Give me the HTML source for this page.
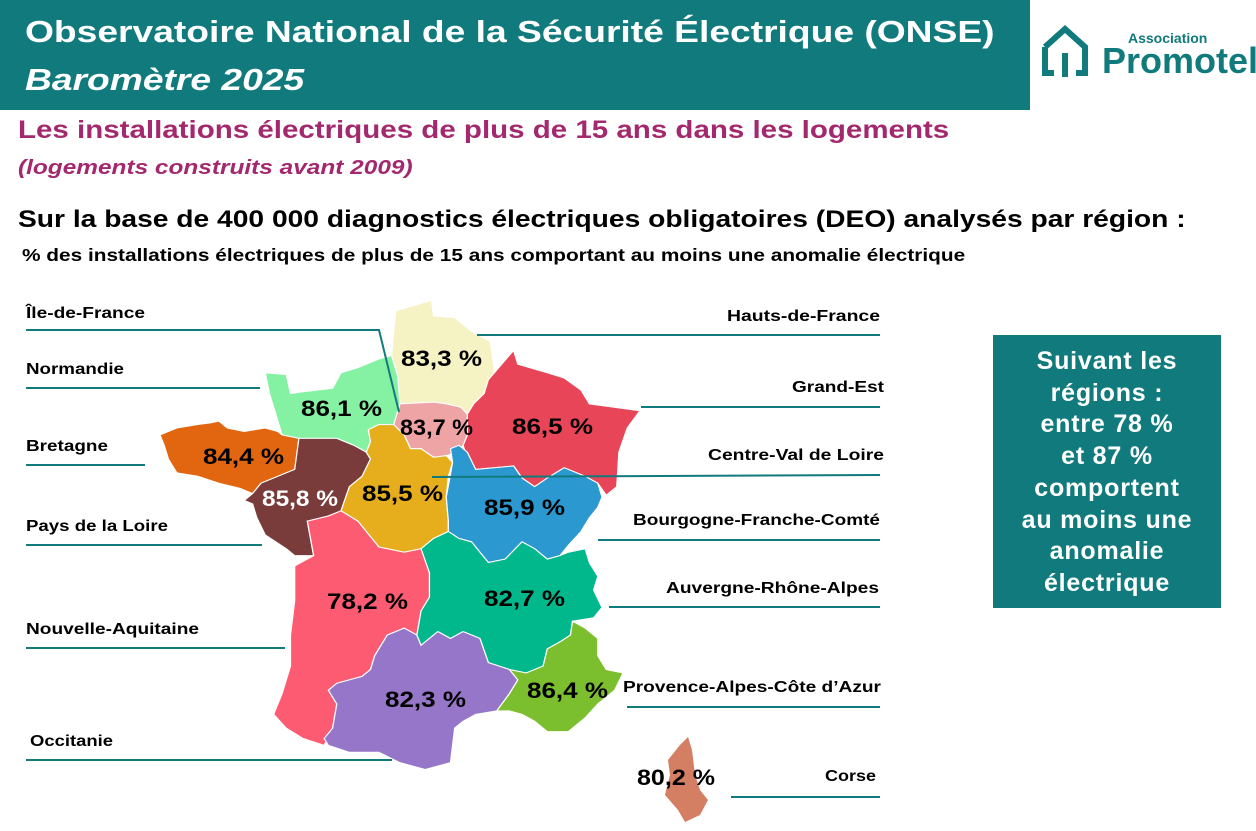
<!DOCTYPE html>
<html><head><meta charset="utf-8"><style>
body{margin:0;width:1256px;height:831px;background:#fff;overflow:hidden;font-family:"Liberation Sans",sans-serif;position:relative}
.a{position:absolute;white-space:nowrap;transform-origin:0 0}
</style></head><body>
<div class="a" style="left:0;top:0;width:1030px;height:110px;background:#107a7c"></div>
<div class="a" style="left:25px;top:14px;color:#fff;font-weight:bold;font-size:31px;transform:scaleX(1.2)">Observatoire National de la Sécurité Électrique (ONSE)</div>
<div class="a" style="left:25px;top:62px;color:#fff;font-weight:bold;font-style:italic;font-size:31px;transform:scaleX(1.2)">Baromètre 2025</div>
<div class="a" style="left:18px;top:116px;color:#a3286e;font-weight:bold;font-size:25px;transform:scaleX(1.18)">Les installations électriques de plus de 15 ans dans les logements</div>
<div class="a" style="left:18px;top:157px;color:#a3286e;font-weight:bold;font-style:italic;font-size:20px;transform:scaleX(1.22)">(logements construits avant 2009)</div>
<div class="a" style="left:18px;top:206px;color:#000;font-weight:bold;font-size:24px;transform:scaleX(1.175)">Sur la base de 400 000 diagnostics électriques obligatoires (DEO) analysés par région :</div>
<div class="a" style="left:22px;top:245px;color:#000;font-weight:bold;font-size:17.5px;transform:scaleX(1.19)">% des installations électriques de plus de 15 ans comportant au moins une anomalie électrique</div>
<svg class="a" style="left:1040px;top:25px" width="50" height="55" viewBox="0 0 50 55"><path d="M5 22 L25 4 L45 22 V48 H36 M14 48 H5 V22" fill="none" stroke="#107a7c" stroke-width="6"/><path d="M25 28 V52" stroke="#107a7c" stroke-width="6"/></svg>
<div class="a" style="left:1128px;top:30px;color:#107a7c;font-weight:bold;font-size:14px">Association</div>
<div class="a" style="left:1102px;top:40px;color:#107a7c;font-weight:bold;font-size:36px">Promotel</div>
<div class="a" style="left:993px;top:335px;width:228px;height:273px;background:#107a7c;color:#fff;font-weight:bold;font-size:25px;text-align:center;line-height:31.7px;padding-top:11px;box-sizing:border-box;letter-spacing:0.8px">Suivant les<br>régions :<br>entre 78 %<br>et 87 %<br>comportent<br>au moins une<br>anomalie<br>électrique</div>
<svg class="a" style="left:0;top:0" width="1256" height="831">
<g transform="translate(0,290) scale(0.421,0.345)" stroke="#fff" stroke-width="3">
<polygon fill="#f5f2c4" points="940,60 1025,30 1030,75 1080,80 1120,120 1165,150 1175,240 1160,260 1150,300 1125,330 1110,360 1095,340 1060,330 1030,325 950,330 945,250 930,190 935,120"/>
<polygon fill="#e84558" points="1160,260 1220,175 1230,215 1300,240 1340,255 1380,290 1400,330 1520,350 1490,400 1470,470 1465,570 1440,595 1420,560 1390,540 1340,515 1300,545 1270,570 1240,545 1220,510 1130,520 1110,490 1100,450 1110,420 1110,360 1125,330 1150,300"/>
<polygon fill="#eea3a4" points="950,330 1030,325 1060,330 1095,340 1110,360 1110,420 1100,450 1090,470 1060,480 1030,485 1000,460 975,460 960,420 935,390 945,350"/>
<polygon fill="#85f2a3" points="630,240 680,245 690,300 720,295 790,285 810,240 850,225 900,200 930,190 945,250 950,330 935,390 900,390 875,405 880,440 870,470 840,450 800,430 710,430 670,420 660,380 640,300"/>
<polygon fill="#e2660f" points="380,420 420,400 470,390 500,385 520,380 540,400 580,410 630,400 660,410 670,420 710,430 705,480 700,520 660,540 620,560 600,590 570,575 520,560 470,540 420,530 400,490 390,450"/>
<polygon fill="#7a3b3b" points="710,430 800,430 840,450 870,470 880,490 860,540 830,570 810,640 780,655 730,670 745,770 700,770 680,750 630,710 610,660 600,620 580,610 600,590 620,560 660,540 700,520"/>
<polygon fill="#e6ad1c" points="875,405 900,390 935,390 960,420 975,460 1000,460 1030,485 1060,480 1075,500 1065,540 1060,600 1065,670 1065,700 1030,720 1000,750 960,760 900,745 870,700 850,670 810,640 830,570 860,540 880,490 870,470 880,440"/>
<polygon fill="#2b99cf" points="1075,500 1070,460 1090,450 1110,470 1130,520 1220,510 1240,545 1270,570 1300,545 1340,515 1390,540 1420,560 1430,600 1420,630 1400,660 1380,700 1350,740 1330,770 1300,780 1270,750 1240,730 1200,780 1160,790 1140,760 1120,730 1090,720 1065,700 1065,670 1060,600"/>
<polygon fill="#00b88c" points="1000,750 1030,720 1065,700 1090,720 1120,730 1140,760 1160,790 1200,780 1240,730 1270,750 1300,780 1330,770 1350,760 1390,750 1400,790 1420,830 1410,870 1430,920 1410,950 1360,960 1355,1000 1330,1020 1300,1040 1290,1090 1250,1110 1210,1100 1160,1080 1140,1010 1100,990 1070,1010 1040,990 1000,1030 990,1000 1000,930 1020,890 1020,820"/>
<polygon fill="#fd5b72" points="730,670 780,655 810,640 850,670 870,700 900,745 960,760 1000,750 1020,820 1020,890 1000,930 990,1000 960,980 920,1000 890,1060 880,1100 860,1120 800,1140 780,1160 800,1200 790,1270 770,1320 720,1300 680,1270 650,1230 670,1170 690,1090 690,1000 700,900 700,800 745,770"/>
<polygon fill="#9676c9" points="780,1160 800,1140 860,1120 880,1100 890,1060 920,1000 960,980 990,1000 1000,1030 1040,990 1070,1010 1100,990 1140,1010 1160,1080 1210,1100 1230,1130 1210,1170 1180,1220 1130,1230 1100,1250 1080,1270 1070,1370 1010,1390 950,1370 900,1340 830,1340 780,1320 770,1300 790,1270 800,1200"/>
<polygon fill="#7cbf2e" points="1210,1100 1250,1110 1290,1090 1300,1040 1330,1020 1355,1000 1360,960 1390,980 1420,1010 1420,1060 1440,1100 1480,1110 1460,1160 1420,1200 1390,1240 1350,1280 1300,1280 1270,1250 1240,1230 1210,1220 1180,1220 1210,1170 1230,1130"/>
</g>
<polygon fill="#d47e63" points="688,737 692,750 695,775 700,790 708,800 700,815 685,822 678,810 665,795 670,775 668,760 680,745"/>
<g stroke="#107a7c" stroke-width="2" fill="none">
<polyline points="26,330 379,330 399,412"/>
<line x1="26" y1="388" x2="260" y2="388"/><line x1="26" y1="465" x2="145" y2="465"/>
<line x1="26" y1="545" x2="262" y2="545"/><line x1="26" y1="648" x2="285" y2="648"/>
<line x1="26" y1="760" x2="392" y2="760"/>
<line x1="477" y1="335" x2="880" y2="335"/><line x1="641" y1="407" x2="880" y2="407"/>
<line x1="432" y1="477" x2="880" y2="475"/><line x1="598" y1="540" x2="880" y2="540"/>
<line x1="609" y1="607" x2="880" y2="607"/><line x1="627" y1="707" x2="880" y2="707"/>
<line x1="731" y1="797" x2="880" y2="797"/>
</g>
<g font-family="Liberation Sans" font-weight="bold" font-size="16" fill="#000">
<text x="26" y="318" textLength="119" lengthAdjust="spacingAndGlyphs">Île-de-France</text>
<text x="26" y="374" textLength="98" lengthAdjust="spacingAndGlyphs">Normandie</text>
<text x="26" y="451" textLength="82" lengthAdjust="spacingAndGlyphs">Bretagne</text>
<text x="26" y="531" textLength="142" lengthAdjust="spacingAndGlyphs">Pays de la Loire</text>
<text x="26" y="634" textLength="173" lengthAdjust="spacingAndGlyphs">Nouvelle-Aquitaine</text>
<text x="30" y="746" textLength="83" lengthAdjust="spacingAndGlyphs">Occitanie</text>
<text x="727" y="321" textLength="153" lengthAdjust="spacingAndGlyphs">Hauts-de-France</text>
<text x="792" y="392" textLength="92" lengthAdjust="spacingAndGlyphs">Grand-Est</text>
<text x="708" y="460" textLength="176" lengthAdjust="spacingAndGlyphs">Centre-Val de Loire</text>
<text x="633" y="525" textLength="247" lengthAdjust="spacingAndGlyphs">Bourgogne-Franche-Comté</text>
<text x="666" y="593" textLength="213" lengthAdjust="spacingAndGlyphs">Auvergne-Rhône-Alpes</text>
<text x="623" y="692" textLength="258" lengthAdjust="spacingAndGlyphs">Provence-Alpes-Côte d’Azur</text>
<text x="825" y="781" textLength="51" lengthAdjust="spacingAndGlyphs">Corse</text>
</g>
<g font-family="Liberation Sans" font-weight="bold" font-size="22" fill="#000">
<text x="401" y="366" textLength="81" lengthAdjust="spacingAndGlyphs">83,3 %</text>
<text x="301" y="416" textLength="81" lengthAdjust="spacingAndGlyphs">86,1 %</text>
<text x="400" y="435" textLength="73" lengthAdjust="spacingAndGlyphs">83,7 %</text>
<text x="512" y="434" textLength="81" lengthAdjust="spacingAndGlyphs">86,5 %</text>
<text x="203" y="464" textLength="81" lengthAdjust="spacingAndGlyphs">84,4 %</text>
<text x="262" y="506" textLength="76" lengthAdjust="spacingAndGlyphs" fill="#fff">85,8 %</text>
<text x="362" y="501" textLength="81" lengthAdjust="spacingAndGlyphs">85,5 %</text>
<text x="484" y="515" textLength="81" lengthAdjust="spacingAndGlyphs">85,9 %</text>
<text x="327" y="609" textLength="81" lengthAdjust="spacingAndGlyphs">78,2 %</text>
<text x="484" y="606" textLength="81" lengthAdjust="spacingAndGlyphs">82,7 %</text>
<text x="385" y="707" textLength="81" lengthAdjust="spacingAndGlyphs">82,3 %</text>
<text x="527" y="698" textLength="81" lengthAdjust="spacingAndGlyphs">86,4 %</text>
<text x="637" y="785" textLength="78" lengthAdjust="spacingAndGlyphs">80,2 %</text>
</g>
</svg>
</body></html>
